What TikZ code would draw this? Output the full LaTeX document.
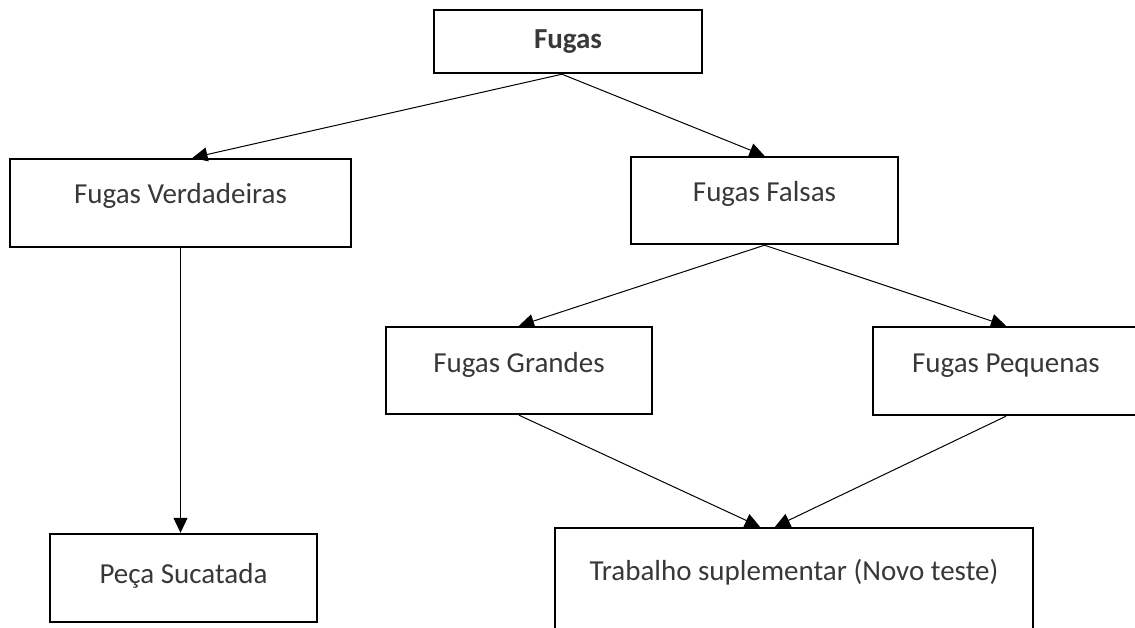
\documentclass[tikz,border=0pt]{standalone}
\usepackage{fontspec}
\setmainfont{Carlito}
\usetikzlibrary{positioning}
\usetikzlibrary{arrows.meta}

\newcommand{\boxfont}{\fontsize{14.5}{17}\selectfont}

\begin{document}
\begin{tikzpicture}
    [x=0.5pt, y=-0.5pt,
    box/.style={draw=black, line width=1.2pt, inner sep=0pt, align=center, text=black!78, font=\boxfont},
    link/.style={black, line width=0.5pt, arrows = {-{Triangle[length=7.5pt,width=7pt]}}}]

    \clip (0,0) rectangle (1135,627);

    % top
    \node[box, font=\boxfont\bfseries, minimum width=134pt, text height=19pt, text depth=12.5pt]
    (fugas) at (568,41.5) {Fugas};

    % second row
    \node[box, minimum width=170.5pt, text height=22pt, text depth=22pt]
    (verd) at (180.5,203) {Fugas Verdadeiras};
    \node[box, minimum width=133.5pt, text height=22pt, text depth=21.5pt]
    (falsas) at (764.5,200.5) {Fugas Falsas};

    % third row
    \node[box, minimum width=133pt, text height=22.5pt, text depth=21pt]
    (grandes) at (519,370.5) {Fugas Grandes};
    \node[box, minimum width=133pt, text height=22.5pt, text depth=21.5pt]
    (pequenas) at (1006,371) {Fugas Pequenas};

    % bottom
    \node[box, minimum width=133.5pt, text height=24.5pt, text depth=19.5pt]
    (peca) at (183.5,578) {Peça Sucatada};
    \node[box, minimum width=239pt, text height=26pt, text depth=34pt]
    (trab) at (794,588) {Trabalho suplementar (Novo teste)};

    \draw [link] ([xshift=-3pt]fugas.south) -- ([xshift=6pt]verd.north);
    \draw [link] ([xshift=-3pt]fugas.south) -- (falsas.north);
    \draw [link] (verd.south) -- (verd.south |- peca.north);
    \draw [link] (falsas.south) -- (grandes.north);
    \draw [link] (falsas.south) -- (pequenas.north);
    \draw [link] (grandes.south) -- ([xshift=-17pt]trab.north);
    \draw [link] (pequenas.south) -- ([xshift=-9.5pt]trab.north);
\end{tikzpicture}
\end{document}
